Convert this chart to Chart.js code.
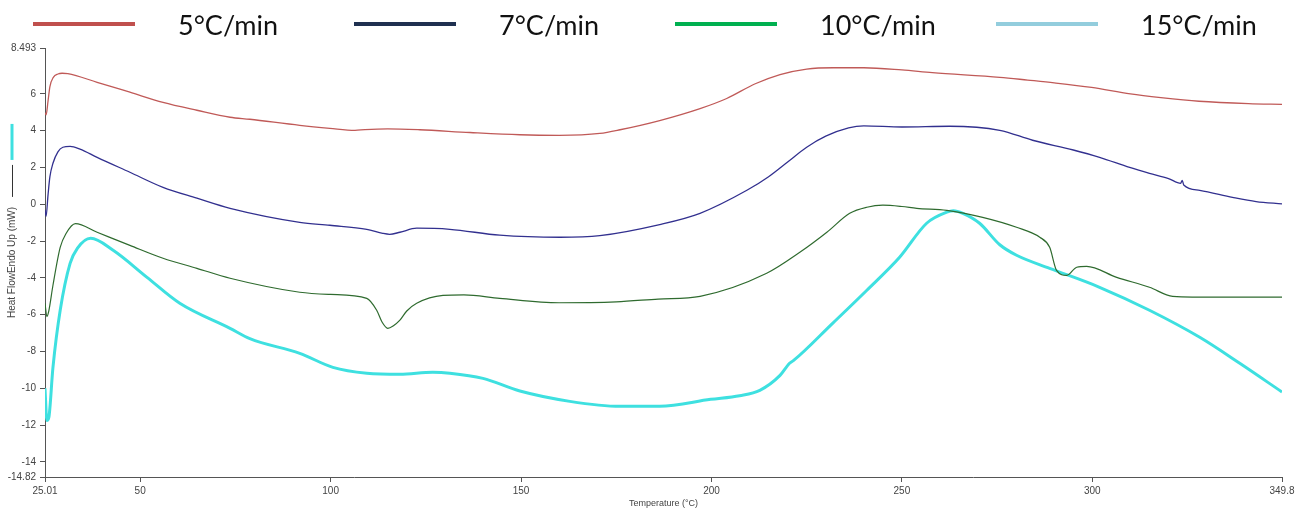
<!DOCTYPE html>
<html>
<head>
<meta charset="utf-8">
<title>DSC heat flow curves</title>
<script src="https://cdn.jsdelivr.net/npm/chart.js@4.4.1/dist/chart.umd.min.js"></script>
<style>
  html, body { margin: 0; padding: 0; background: #fff; overflow: hidden; }
  #wrap { position: relative; width: 1303px; height: 510px; }
  #chart { position: absolute; left: 0; top: 0; }
  #legend { position: absolute; left: 33px; top: 6px; display: flex;
            font-family: Lato, "Open Sans", sans-serif; font-size: 27px; color: #111; }
  .item { display: flex; align-items: center; width: 321px; height: 36px; }
  .swatch { width: 102px; height: 4px; margin-right: 43px; flex: none; }
</style>
</head>
<body>
<div id="wrap">
  <canvas id="chart" width="1303" height="510"></canvas>
  <div id="legend"></div>
</div>
<script>
// Heating rates
const seriesNames = ['5°C/min', '7°C/min', '10°C/min', '15°C/min'];

// Temperature (°C) and heat flow (mW) for each heating rate
const temp5 = [25.01, 25.3, 25.8, 26.3, 27.2, 28.4, 29.5, 31.0, 38.7, 47.3, 56.0, 64.9, 73.6, 78.8, 91.9, 99.8,
  106.4, 109, 115, 123.4, 136.6, 149.7, 160, 170.7, 176, 186.4, 197, 204, 211.5, 218, 225, 232,
  240, 250, 258, 275.7, 283, 290, 299.8, 310, 318, 328, 341, 349.8];
const heat5 = [4.98, 4.86, 5.6, 6.4, 6.9, 7.08, 7.12, 7.1, 6.63, 6.09, 5.54, 5.11, 4.73, 4.62, 4.29, 4.13,
  4.02, 4.06, 4.10, 4.05, 3.90, 3.78, 3.75, 3.85, 4.05, 4.55, 5.2, 5.75, 6.55, 7.05, 7.35, 7.42,
  7.42, 7.3, 7.15, 6.9, 6.75, 6.6, 6.35, 6.0, 5.8, 5.6, 5.47, 5.43];

const temp7 = [25.01, 25.3, 25.8, 26.3, 27.1, 28.4, 29.7, 31.6, 34.2, 38.7, 47.3, 56.0, 64.9, 73.6, 91.9, 99.8,
  109.5, 113.7, 115.5, 118.2, 122.6, 131.3, 144.4, 160.2, 170.7, 186.4, 197, 209.3, 215, 220,
  225, 230, 236, 240, 250, 262.5, 275.7, 284.3, 295, 301.9, 309.8, 315, 320, 323.2, 323.6, 324,
  328.2, 336.8, 343, 349.8];
const heat7 = [-0.3, -0.65, 0.5, 1.5, 2.23, 2.85, 3.1, 3.15, 3.0, 2.55, 1.74, 0.92, 0.33, -0.22, -0.98, -1.14,
  -1.36, -1.58, -1.63, -1.52, -1.30, -1.36, -1.68, -1.79, -1.70, -1.1, -0.49, 0.76, 1.5, 2.3,
  3.1, 3.7, 4.15, 4.26, 4.2, 4.24, 4.02, 3.48, 2.95, 2.55, 2.0, 1.68, 1.4, 1.14, 1.3, 1.05,
  0.76, 0.38, 0.15, 0.02];

const temp10 = [25.01, 25.5, 26.0, 27.1, 29.0, 30.5, 33.0, 38.7, 47.3, 56.0, 64.9, 73.6, 91.9, 100,
  109.5, 112.1, 113.5, 115.0, 116.5, 118.2, 120, 122.6, 129.5, 135, 144.4, 160, 175, 186, 197,
  214.5, 223.2, 230.3, 236.3, 240.8, 245, 250, 253.9, 261.8, 271.2, 280.1, 286.2, 288.8, 290.6,
  293.3, 295.9, 298.5, 306.4, 315.0, 321.1, 333.4, 349.8];
const heat10 = [-5.38, -6.1, -5.8, -4.4, -2.34, -1.6, -1.05, -1.52, -2.23, -2.93, -3.48, -4.02, -4.78, -4.9,
  -5.11, -5.76, -6.4, -6.74, -6.6, -6.30, -5.8, -5.38, -4.95, -4.92, -5.11, -5.35, -5.3, -5.15, -5.0,
  -3.75, -2.61, -1.52, -0.49, -0.16, -0.05, -0.12, -0.22, -0.33, -0.71, -1.25, -1.79, -2.34, -3.59,
  -3.86, -3.42, -3.37, -3.97, -4.51, -5.0, -5.05, -5.05];

const temp15 = [25.01, 25.5, 26.0, 27.1, 29.0, 31.6, 33.5, 37.0, 42.9, 51.8, 60.4, 73.6, 78.8, 91.9,
  100.6, 109.5, 118.2, 126.8, 131.3, 140.0, 149.7, 162.8, 176.0, 186.4, 199.8, 207.4, 212.7, 218,
  220.5, 221.5, 231.8, 240.8, 249.4, 256.5, 261.8, 263.5, 266.0, 270.4, 275.7, 280.1, 288.8,
  301.9, 315.0, 328.2, 338.7, 349.8];
const heat15 = [-10.0, -11.75, -11.6, -8.86, -5.76, -3.21, -2.4, -1.85, -2.50, -3.97, -5.38, -6.74, -7.3, -8.10,
  -8.86, -9.18, -9.24, -9.13, -9.18, -9.46, -10.15, -10.71, -10.98, -10.98, -10.6, -10.4, -10.11, -9.3,
  -8.64, -8.5, -6.47, -4.67, -2.88, -1.03, -0.43, -0.35, -0.49, -1.03, -2.2, -2.77, -3.48,
  -4.51, -5.76, -7.23, -8.64, -10.2];

// Axis tick labels
const xTickValues = [25.01, 50, 100, 150, 200, 250, 300, 349.8];
const yTickValues = [8.493, 6, 4, 2, 0, -2, -4, -6, -8, -10, -12, -14, -14.82];

const xTitle = 'Temperature (°C)';
const yTitle = 'Heat FlowEndo Up (mW)';

// Styling
const lineColors = ['#c05a58', '#32308f', '#2f6b2f', '#3ee0e0'];
const legendColors = ['#c0504d', '#1f3050', '#00b050', '#93cddd'];
const lineWidths = [1.3, 1.3, 1.2, 3];

const temps = [temp5, temp7, temp10, temp15];
const heats = [heat5, heat7, heat10, heat15];

const datasets = seriesNames.map((name, i) => ({
  label: name,
  data: temps[i].map((t, k) => ({ x: t, y: heats[i][k] })),
  borderColor: lineColors[i],
  borderWidth: lineWidths[i],
  pointRadius: 0,
  fill: false,
  cubicInterpolationMode: 'monotone'
}));

// Legend row across the top
const legendEl = document.getElementById('legend');
seriesNames.forEach((name, i) => {
  const item = document.createElement('div');
  item.className = 'item';
  const sw = document.createElement('span');
  sw.className = 'swatch';
  sw.style.background = legendColors[i];
  const tx = document.createElement('span');
  tx.textContent = name;
  item.appendChild(sw);
  item.appendChild(tx);
  legendEl.appendChild(item);
});

const axisFont = { family: '"Liberation Sans", Arial, sans-serif', size: 10 };
const axisGray = '#555';

// Small trace markers above the vertical axis title
const titleMarks = {
  id: 'titleMarks',
  afterDraw(chart) {
    const { ctx, chartArea } = chart;
    ctx.save();
    ctx.font = '10px "Liberation Sans", Arial, sans-serif';
    const w = ctx.measureText(yTitle).width;
    const midY = (chartArea.top + chartArea.bottom) / 2;
    const textTop = midY - w / 2 - 6;
    const cx = 12;
    ctx.lineCap = 'butt';
    ctx.strokeStyle = '#333';
    ctx.lineWidth = 1;
    ctx.beginPath();
    ctx.moveTo(cx + 0.5, textTop - 4);
    ctx.lineTo(cx + 0.5, textTop - 36);
    ctx.stroke();
    ctx.strokeStyle = lineColors[3];
    ctx.lineWidth = 3;
    ctx.beginPath();
    ctx.moveTo(cx, textTop - 41);
    ctx.lineTo(cx, textTop - 77);
    ctx.stroke();
    ctx.restore();
  }
};

new Chart(document.getElementById('chart'), {
  type: 'line',
  data: { datasets },
  options: {
    responsive: false,
    animation: false,
    devicePixelRatio: 1,
    layout: { padding: { top: 48, right: 21, bottom: 0, left: 0 } },
    plugins: { legend: { display: false }, tooltip: { enabled: false } },
    elements: { point: { radius: 0 } },
    scales: {
      x: {
        type: 'linear',
        min: xTickValues[0],
        max: xTickValues[xTickValues.length - 1],
        afterBuildTicks: s => { s.ticks = xTickValues.map(v => ({ value: v })); },
        afterFit: s => { s.height = 33; },
        ticks: { autoSkip: false, maxRotation: 0, padding: 3, color: '#444', font: axisFont,
                 callback: v => String(v) },
        grid: { drawOnChartArea: false, drawTicks: true, tickLength: 5, color: axisGray },
        border: { display: true, color: axisGray, width: 1 },
        title: { display: true, text: xTitle, color: '#444', font: { family: axisFont.family, size: 9 },
                 padding: { top: 0, bottom: 1 } }
      },
      y: {
        type: 'linear',
        min: yTickValues[yTickValues.length - 1],
        max: yTickValues[0],
        afterBuildTicks: s => { s.ticks = yTickValues.map(v => ({ value: v })); },
        afterFit: s => { s.width = 45; },
        ticks: { autoSkip: false, padding: 4, color: '#444', font: axisFont,
                 callback: v => String(v) },
        grid: { drawOnChartArea: false, drawTicks: true, tickLength: 5, color: axisGray },
        border: { display: true, color: axisGray, width: 1 },
        title: { display: true, text: yTitle, color: '#444', font: { family: axisFont.family, size: 10 },
                 padding: { top: 6, bottom: 0 } }
      }
    }
  },
  plugins: [titleMarks]
});
</script>
</body>
</html>
